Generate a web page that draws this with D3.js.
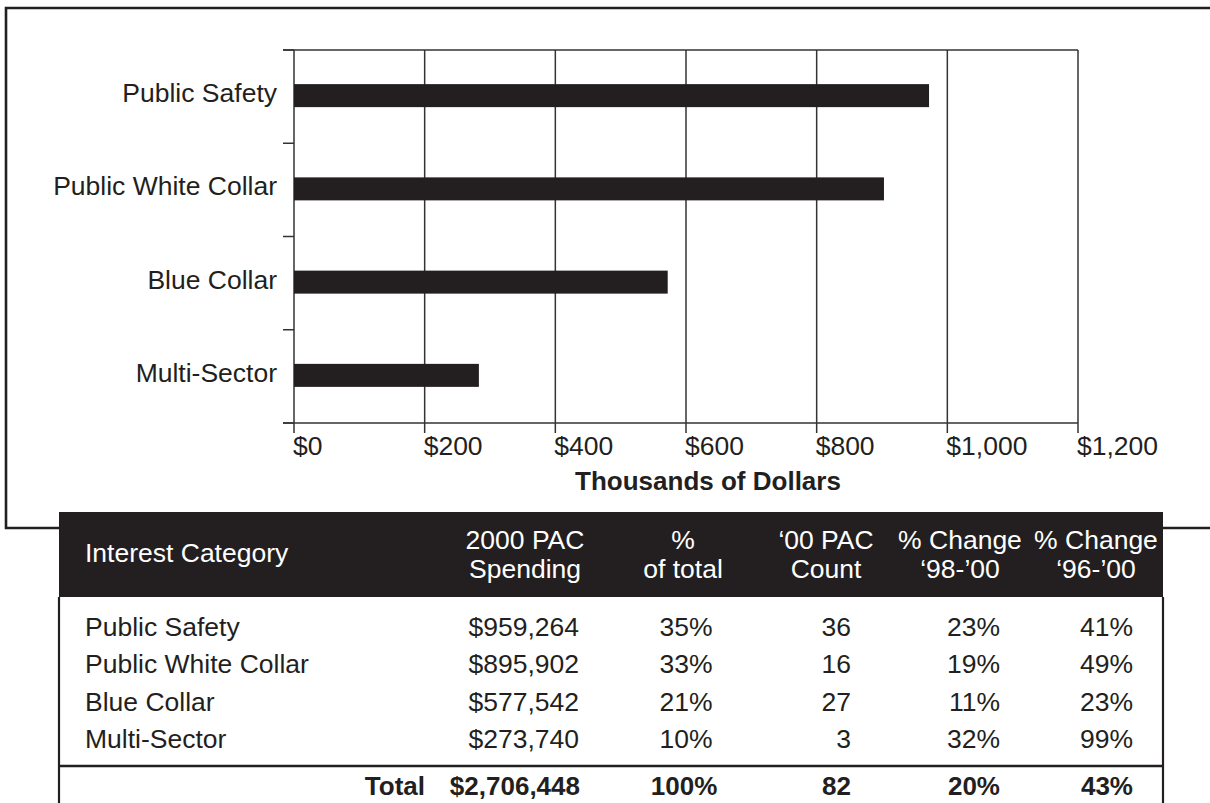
<!DOCTYPE html>
<html>
<head>
<meta charset="utf-8">
<script src="https://cdn.jsdelivr.net/npm/d3@7/dist/d3.min.js"></script>
<style>
  html, body { margin: 0; padding: 0; background: #fff; }
  svg { display: block; font-family: "Liberation Sans", Arial, Helvetica, sans-serif; }
</style>
</head>
<body>
<svg id="chart" width="1210" height="803"></svg>
<script>
// ---- data ----
const categories = ["Public Safety", "Public White Collar", "Blue Collar", "Multi-Sector"];
// bar lengths (thousands of dollars)
const barValues = [972, 903, 572, 283];
const xTicks = [0, 200, 400, 600, 800, 1000, 1200];
const xTickLabels = ["$0", "$200", "$400", "$600", "$800", "$1,000", "$1,200"];
const axisTitle = "Thousands of Dollars";

const headerLabels = [
  ["Interest Category"],
  ["2000 PAC", "Spending"],
  ["%", "of total"],
  ["\u201800 PAC", "Count"],
  ["% Change", "\u201898-\u201900"],
  ["% Change", "\u201896-\u201900"]
];
const spending = ["$959,264", "$895,902", "$577,542", "$273,740"];
const pctTotal = ["35%", "33%", "21%", "10%"];
const pacCount = ["36", "16", "27", "3"];
const change9800 = ["23%", "19%", "11%", "32%"];
const change9600 = ["41%", "49%", "23%", "99%"];
const totalRow = ["Total", "$2,706,448", "100%", "82", "20%", "43%"];

// ---- drawing ----
const ink = "#231f20";
const fs = 26.5;
const svg = d3.select("#chart");

// outer frame
svg.append("path")
  .attr("d", "M1215,8 H6 V528 H1215")
  .attr("fill", "none").attr("stroke", ink).attr("stroke-width", 2.6);

const x = d3.scaleLinear().domain([0, 1200]).range([294, 1078]);
const y = d3.scaleBand().domain(categories).range([50, 423]);
const yTop = y.range()[0], yBot = y.range()[1];

// vertical grid lines + bottom ticks
const g = svg.append("g");
g.selectAll("line.grid").data(xTicks).join("line")
  .attr("class", "grid")
  .attr("x1", d => x(d)).attr("x2", d => x(d))
  .attr("y1", yTop).attr("y2", yBot + 10)
  .attr("stroke", "#333").attr("stroke-width", 1.5);

// horizontal top & bottom lines
g.append("line").attr("x1", 283).attr("x2", x(1200)).attr("y1", yTop).attr("y2", yTop)
  .attr("stroke", "#333").attr("stroke-width", 1.5);
g.append("line").attr("x1", 283).attr("x2", x(1200)).attr("y1", yBot).attr("y2", yBot)
  .attr("stroke", "#333").attr("stroke-width", 1.5);

// y tick marks at band edges
const edges = categories.map(c => y(c)).concat([yBot]);
g.selectAll("line.ytick").data(edges).join("line")
  .attr("class", "ytick")
  .attr("x1", 283).attr("x2", x(0))
  .attr("y1", d => d).attr("y2", d => d)
  .attr("stroke", "#333").attr("stroke-width", 1.5);

// bars
const barH = 23;
svg.append("g").selectAll("rect").data(categories).join("rect")
  .attr("x", x(0))
  .attr("y", d => y(d) + y.bandwidth() / 2 - barH / 2 - 1)
  .attr("width", (d, i) => x(barValues[i]) - x(0))
  .attr("height", barH)
  .attr("fill", ink);

// category labels
svg.append("g").selectAll("text").data(categories).join("text")
  .attr("x", 277)
  .attr("y", d => y(d) + y.bandwidth() / 2 + 5.5)
  .attr("text-anchor", "end")
  .attr("font-size", fs).attr("fill", ink)
  .text(d => d);

// x tick labels
svg.append("g").selectAll("text").data(xTicks).join("text")
  .attr("x", d => x(d) - 1)
  .attr("y", 455)
  .attr("font-size", fs).attr("fill", ink)
  .text((d, i) => xTickLabels[i]);

// axis title
svg.append("text")
  .attr("x", 708).attr("y", 490)
  .attr("text-anchor", "middle")
  .attr("font-size", 26).attr("font-weight", "bold").attr("fill", ink)
  .text(axisTitle);

// ---- table ----
const tL = 59, tR = 1163, hTop = 512, hBot = 597;
svg.append("rect").attr("x", tL).attr("y", hTop).attr("width", tR - tL).attr("height", hBot - hTop)
  .attr("fill", ink);
svg.append("line").attr("x1", tL).attr("x2", tL).attr("y1", hBot).attr("y2", 810)
  .attr("stroke", ink).attr("stroke-width", 2.2);
svg.append("line").attr("x1", tR).attr("x2", tR).attr("y1", hBot).attr("y2", 810)
  .attr("stroke", ink).attr("stroke-width", 2.2);
svg.append("line").attr("x1", tL).attr("x2", tR).attr("y1", 766).attr("y2", 766)
  .attr("stroke", ink).attr("stroke-width", 2.6);

// header text
const headerCenters = [null, 525, 683, 826, 960, 1096];
headerLabels.forEach((lines, i) => {
  if (i === 0) {
    svg.append("text").attr("x", 85).attr("y", 562)
      .attr("font-size", fs).attr("fill", "#fff").text(lines[0]);
  } else {
    lines.forEach((t, j) => {
      svg.append("text").attr("x", headerCenters[i]).attr("y", 549 + j * 28.5)
        .attr("text-anchor", "middle")
        .attr("font-size", fs).attr("fill", "#fff").text(t);
    });
  }
});

// body rows
const rowBase = d3.scalePoint().domain(categories).range([636, 748]);
const cols = [
  { data: categories, x: 85, anchor: "start" },
  { data: spending, x: 579, anchor: "end" },
  { data: pctTotal, x: 686, anchor: "middle" },
  { data: pacCount, x: 851, anchor: "end" },
  { data: change9800, x: 1000, anchor: "end" },
  { data: change9600, x: 1133, anchor: "end" }
];
cols.forEach(col => {
  svg.append("g").selectAll("text").data(categories).join("text")
    .attr("x", col.x)
    .attr("y", d => rowBase(d))
    .attr("text-anchor", col.anchor)
    .attr("font-size", fs).attr("fill", ink)
    .text((d, i) => col.data[i]);
});

// total row
const totalX = [425, 580, 684, 851, 1000, 1133];
const totalAnchor = ["end", "end", "middle", "end", "end", "end"];
svg.append("g").selectAll("text").data(totalRow).join("text")
  .attr("x", (d, i) => totalX[i])
  .attr("y", 795)
  .attr("text-anchor", (d, i) => totalAnchor[i])
  .attr("font-size", 26).attr("font-weight", "bold").attr("fill", ink)
  .text(d => d);
</script>
</body>
</html>
